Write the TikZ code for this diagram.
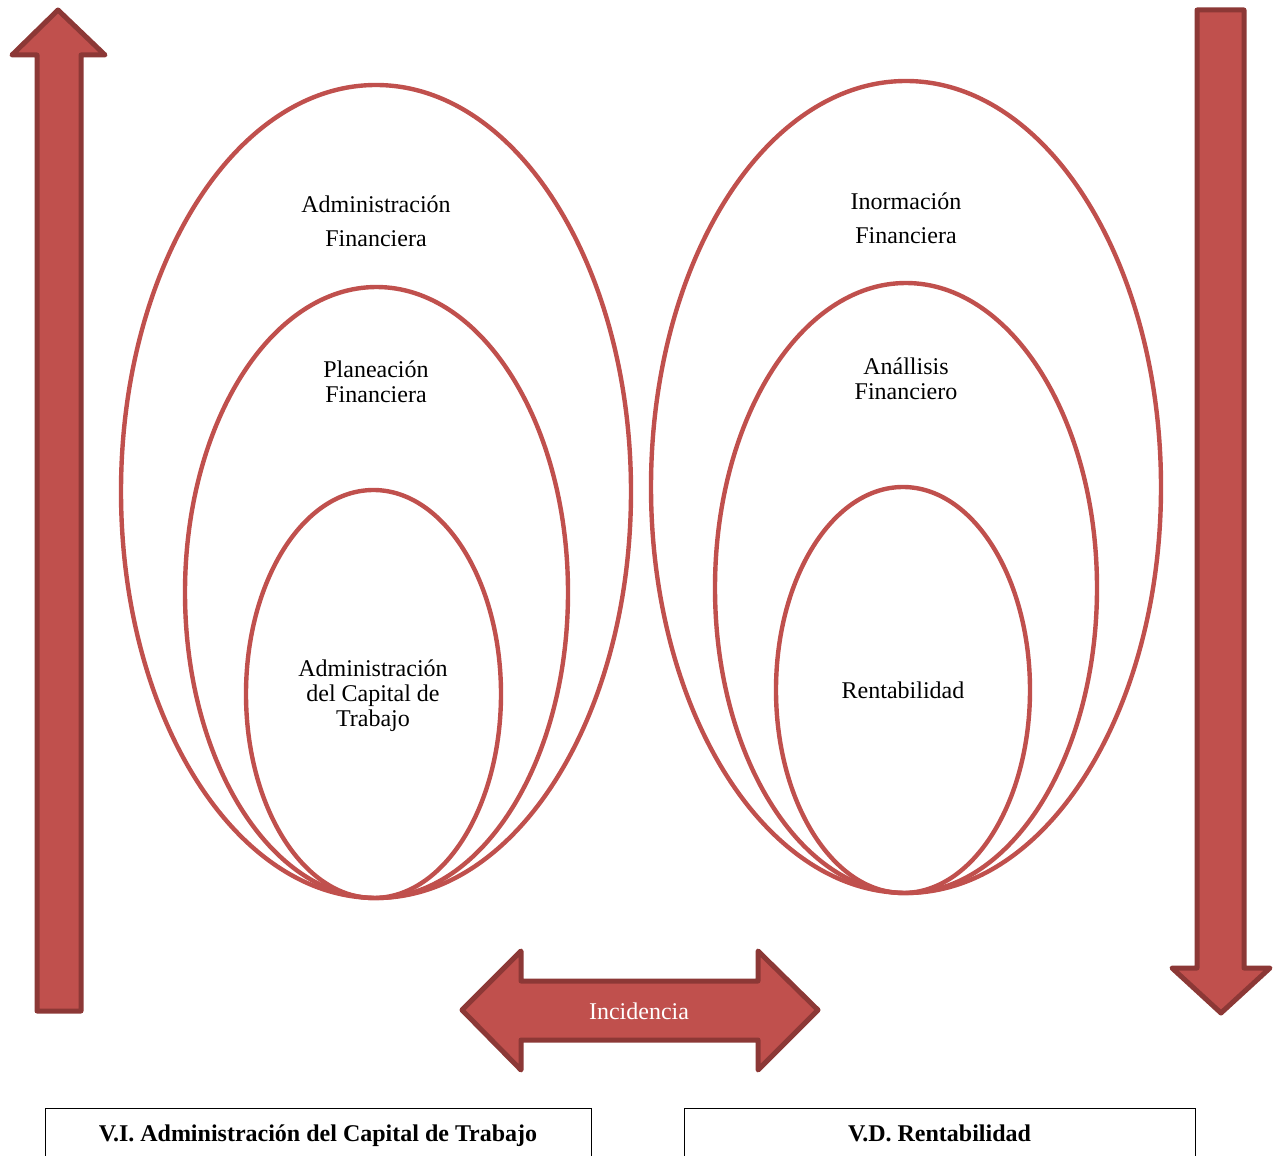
\documentclass[tikz,border=0pt]{standalone}
\usepackage{fontspec}
\setmainfont{Liberation Serif}
\usetikzlibrary{shapes.geometric}
\definecolor{accentred}{HTML}{C0504D}
\definecolor{darkred}{HTML}{8C3836}
\begin{document}
\begin{tikzpicture}[x=0.5pt, y=-0.5pt,
  every node/.style={font=\fontsize{12}{12.5}\selectfont, align=center},
  ring/.style={draw=accentred, line width=2.2pt, ellipse, inner sep=0pt},
  bigarrow/.style={fill=accentred, draw=darkred, line width=2.5pt, line join=round},
  varbox/.style={draw=black, line width=0.5pt, inner sep=0pt, text height=0.75em, text depth=0.25em,
    font=\fontsize{12}{12.5}\selectfont\bfseries}]
  \useasboundingbox (0,0) rectangle (1281,1156);
  % Vertical arrows
  \draw[bigarrow] (37,1011) -- (37,55) -- (12,55) -- (58,10) -- (105,55) -- (81,55) -- (81,1011) -- cycle;
  \draw[bigarrow] (1197,10) -- (1244,10) -- (1244,968) -- (1270,968) -- (1221,1013) -- (1172,968) -- (1197,968) -- cycle;
  % Left nested ellipses
  \node[ring, minimum width=255pt, minimum height=406.5pt] (leftouter) at (376,491.5) {};
  \node[ring, minimum width=191.5pt, minimum height=305.5pt] (leftmid) at (376.5,592.5) {};
  \node[ring, minimum width=127.5pt, minimum height=204pt] (leftinner) at (373.5,694) {};
  \node (adminfin) at (376,221) {Administración\\[4.5pt]Financiera};
  \node (planfin) at (376,381.5) {Planeación\\Financiera};
  \node (admincap) at (373,696) {Administración\\del Capital de\\Trabajo};
  % Right nested ellipses
  \node[ring, minimum width=255pt, minimum height=406pt] (rightouter) at (906,487) {};
  \node[ring, minimum width=191pt, minimum height=305pt] (rightmid) at (906,588) {};
  \node[ring, minimum width=127pt, minimum height=203pt] (rightinner) at (903,690) {};
  \node (inffin) at (906,218) {Inormación\\[4.5pt]Financiera};
  \node (analfin) at (906,378.5) {Anállisis\\Financiero};
  \node (rentab) at (903,690) {Rentabilidad};
  % Incidence arrow
  \draw[bigarrow] (462,1010) -- (521,951) -- (521,981) -- (758,981) -- (758,951) -- (818,1010)
    -- (758,1070) -- (758,1040) -- (521,1040) -- (521,1070) -- cycle;
  \node[text=white] (incid) at (639,1011) {Incidencia};
  % Variable boxes
  \node[varbox, minimum width=273pt, minimum height=28pt, anchor=north] (vibox) at (318,1108) {V.I. Administración del Capital de Trabajo};
  \node[varbox, minimum width=255.5pt, minimum height=28pt, anchor=north] (vdbox) at (939.5,1108) {V.D. Rentabilidad};
\end{tikzpicture}
\end{document}
